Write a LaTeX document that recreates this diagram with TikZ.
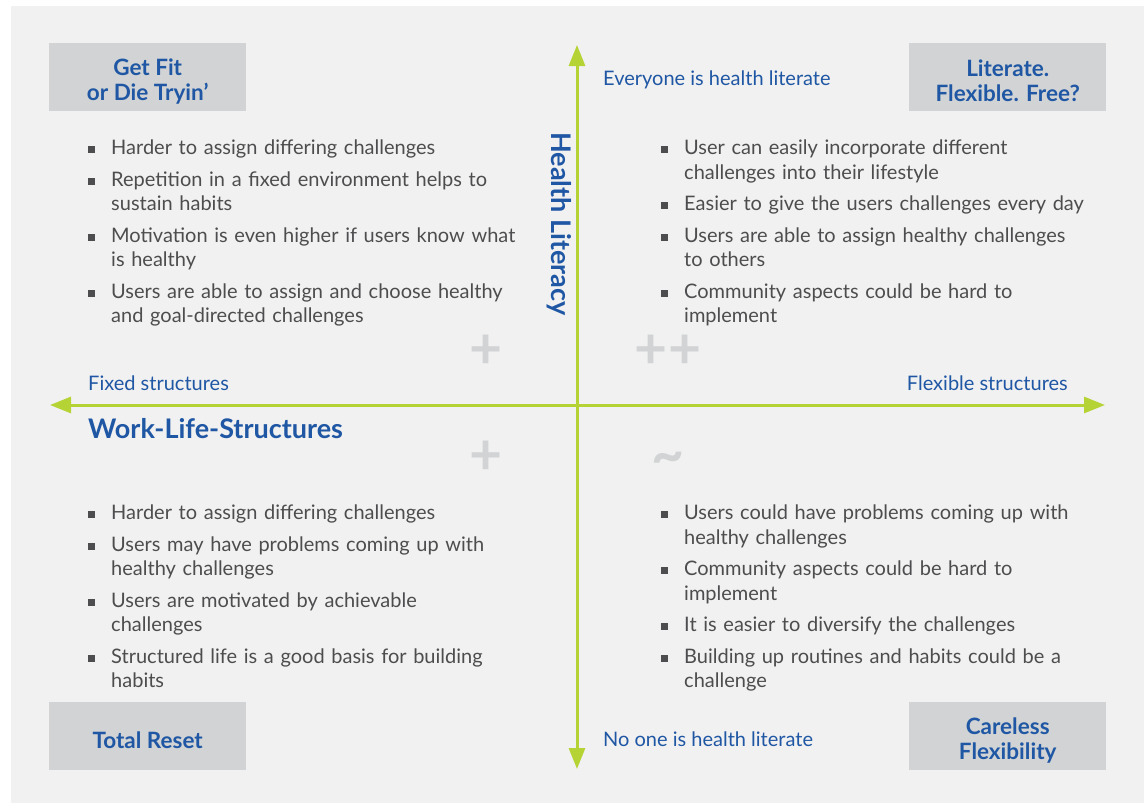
\documentclass[tikz,border=0pt]{standalone}
\usepackage{fontspec}
\setmainfont{Lato}
\usepackage{enumitem}
\usetikzlibrary{arrows.meta,positioning,calc}
\definecolor{axisgreen}{HTML}{B5D334}
\definecolor{titleblue}{HTML}{1F57A4}
\definecolor{boxgray}{HTML}{D1D3D4}
\definecolor{bggray}{HTML}{F1F1F1}
\definecolor{textgray}{HTML}{4D4D4F}
\tikzstyle{corner} = [rectangle, fill=boxgray, minimum width=197pt, minimum height=68pt, inner sep=0pt, anchor=north west]
\tikzstyle{title} = [text=titleblue, font=\fontsize{22.5}{25}\selectfont\bfseries, align=center, inner sep=0pt, yshift=-4pt]
\tikzstyle{axis} = [draw=axisgreen, line width=3pt, {Triangle[length=21pt,width=16pt]}-{Triangle[length=21pt,width=16pt]}]
\tikzstyle{lbl} = [text=titleblue, font=\fontsize{20}{22}\selectfont, inner sep=0pt]
\tikzstyle{sign} = [text=boxgray, font=\fontsize{57}{57}\selectfont\bfseries, inner sep=0pt]
\tikzstyle{quad} = [text=textgray, font=\fontsize{20}{24.5}\selectfont, text width=480pt, inner sep=0pt, anchor=north west, align=left]
\newcommand{\bul}{\raisebox{1.5pt}{\rule{7pt}{7pt}}}
\setlist[itemize]{label=\bul, leftmargin=23pt, labelsep=16pt, itemsep=7pt, topsep=0pt, partopsep=0pt, parsep=0pt}

\begin{document}
\begin{tikzpicture}[x=1pt, y=-1pt]
    \useasboundingbox (0,0) rectangle (1144,803);
    \fill[bggray] (11,6) rectangle (1144,803);

    % axes
    \coordinate (top) at (577,45);
    \coordinate (bottom) at (577,769);
    \coordinate (west) at (50,405);
    \coordinate (east) at (1105,405);
    \draw[axis] (bottom) -- (top);
    \draw[axis] (west) -- (east);

    \node[lbl, anchor=west] (txt1) at (603,80) {Everyone is health literate};
    \node[lbl, anchor=west] (txt2) at (603,739) {No one is health literate};
    \node[lbl, anchor=west] (txt3) at (88,383) {Fixed structures};
    \node[lbl, anchor=east] (txt4) at (1068,383) {Flexible structures};
    \node[rotate=-90, text=titleblue, font=\fontsize{27}{27}\selectfont\bfseries, inner sep=0pt] (hl) at (559,224) {Health Literacy};
    \node[text=titleblue, font=\fontsize{27}{27}\selectfont\bfseries, inner sep=0pt, anchor=west] (wls) at (88,429) {Work-Life-Structures};

    % corner boxes
    \node[corner] (c1) at (49,43) {};
    \node[corner] (c2) at (909,43) {};
    \node[corner] (c3) at (49,702) {};
    \node[corner] (c4) at (909,702) {};
    \node[title] (t1) at (c1.center) {Get Fit\\or Die Tryin’};
    \node[title] (t2) at (c2.center) {Literate.\\Flexible. Free?};
    \node[title] (t3) at (c3.center) {Total Reset};
    \node[title] (t4) at (c4.center) {Careless\\Flexibility};

    \node[sign] (s1) at (486,352) {+};
    \node[sign] (s2) at (668,352) {++};
    \node[sign] (s3) at (486,458) {+};
    \node[sign] (s4) at (668,463) {\textasciitilde};

    % quadrant lists
    \node[quad] (q1) at (88,130) {\begin{itemize}
        \item Harder to assign differing challenges
        \item Repetition in a fixed environment helps to\newline sustain habits
        \item Motivation is even higher if users know what\newline is healthy
        \item Users are able to assign and choose healthy\newline and goal-directed challenges
    \end{itemize}};
    \node[quad] (q2) at (661,130) {\begin{itemize}
        \item User can easily incorporate different\newline challenges into their lifestyle
        \item Easier to give the users challenges every day
        \item Users are able to assign healthy challenges\newline to others
        \item Community aspects could be hard to\newline implement
    \end{itemize}};
    \node[quad] (q3) at (88,495) {\begin{itemize}
        \item Harder to assign differing challenges
        \item Users may have problems coming up with\newline healthy challenges
        \item Users are motivated by achievable\newline challenges
        \item Structured life is a good basis for building\newline habits
    \end{itemize}};
    \node[quad] (q4) at (661,495) {\begin{itemize}
        \item Users could have problems coming up with\newline healthy challenges
        \item Community aspects could be hard to\newline implement
        \item It is easier to diversify the challenges
        \item Building up routines and habits could be a\newline challenge
    \end{itemize}};
\end{tikzpicture}
\end{document}
